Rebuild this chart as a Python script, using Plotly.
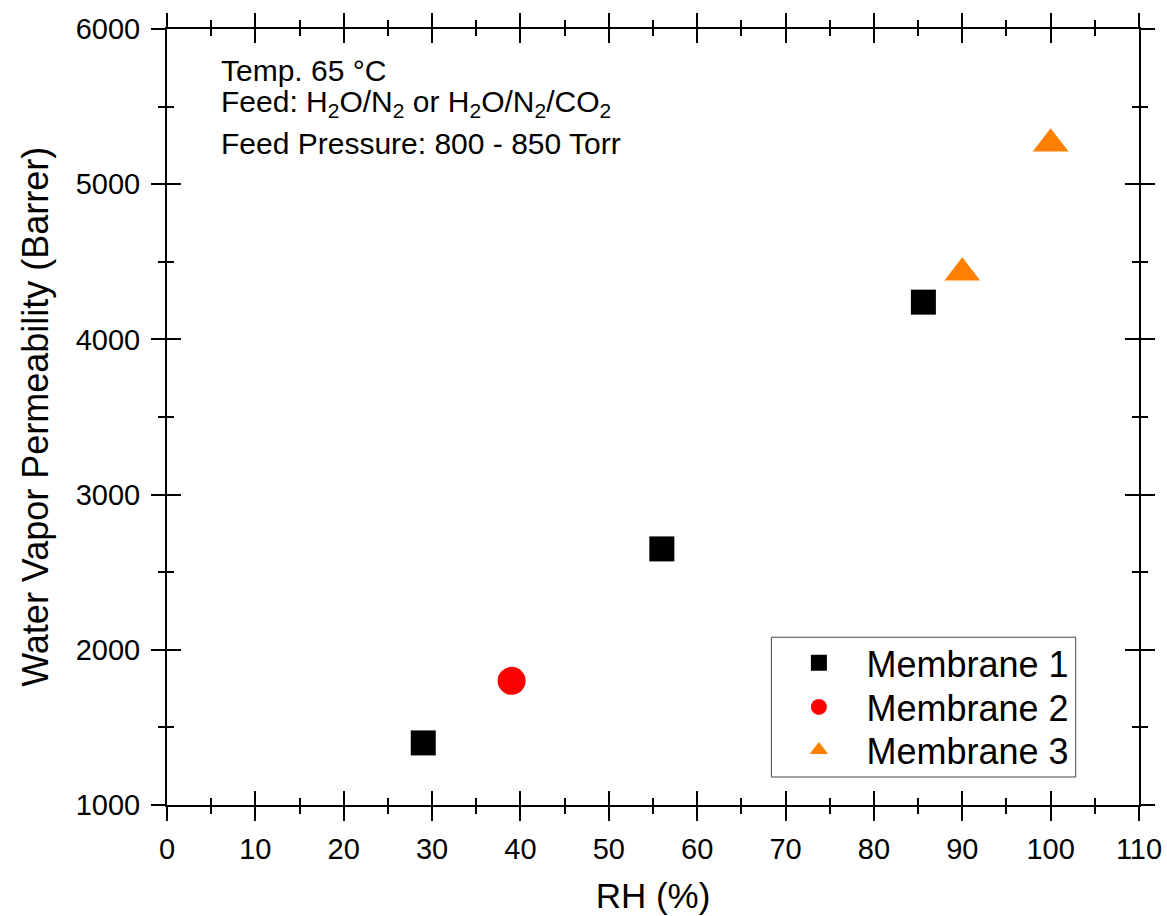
import plotly.graph_objects as go

# Data
m1_rh = [29, 56, 85.6]
m1_perm = [1400, 2650, 4240]
m2_rh = [39]
m2_perm = [1800]
m3_rh = [90, 100]
m3_perm = [4430, 5260]

x_range = [0, 110]
y_range = [1000, 6000]
x_title = "RH (%)"
y_title = "Water Vapor Permeability (Barrer)"
notes = [
    "Temp. 65 °C",
    "Feed: H<sub>2</sub>O/N<sub>2</sub> or H<sub>2</sub>O/N<sub>2</sub>/CO<sub>2</sub>",
    "Feed Pressure: 800 - 850 Torr",
]
note_y = [0.947, 0.904, 0.852]
legend_rows_y = [0.1831, 0.1263, 0.0709]

FONT = "Arial, Liberation Sans, sans-serif"

fig = go.Figure()
fig.add_trace(go.Scatter(x=m1_rh, y=m1_perm, mode="markers", name="Membrane 1", legend="legend",
                         marker=dict(symbol="square", size=25, color="black", line=dict(width=0))))
fig.add_trace(go.Scatter(x=m2_rh, y=m2_perm, mode="markers", name="Membrane 2", legend="legend2",
                         marker=dict(symbol="circle", size=28, color="#ff0000", line=dict(width=0))))
fig.add_trace(go.Scatter(x=m3_rh, y=m3_perm, mode="markers", name="Membrane 3", legend="legend3",
                         marker=dict(symbol="triangle-up", size=31, color="#ff8000", line=dict(width=0))))
# dummy trace for inner-tick overlay axes
fig.add_trace(go.Scatter(x=[], y=[], xaxis="x2", yaxis="y2", showlegend=False, hoverinfo="skip"))

common = dict(showgrid=False, zeroline=False, linecolor="black", linewidth=2,
              tickcolor="black", tickwidth=2, ticklen=14, mirror="ticks", automargin=False)

def leg(yy):
    return dict(x=0.6218, y=yy, xanchor="left", yanchor="middle",
                bgcolor="rgba(0,0,0,0)", borderwidth=0,
                font=dict(size=36, family=FONT, color="black"), itemwidth=85)

fig.update_layout(
    width=1167, height=916,
    margin=dict(l=167, r=28, t=29, b=111),
    paper_bgcolor="white", plot_bgcolor="white",
    font=dict(family=FONT, color="black"),
    xaxis=dict(range=x_range, dtick=10, tick0=0, ticks="outside",
               minor=dict(dtick=5, ticks="outside", ticklen=7, tickwidth=2, tickcolor="black"),
               tickfont=dict(size=29), ticklabelstandoff=3, ticklabeloverflow="allow",
               title=dict(text=x_title, font=dict(size=35), standoff=20), **common),
    yaxis=dict(range=y_range, dtick=1000, tick0=0, ticks="outside",
               minor=dict(dtick=500, ticks="outside", ticklen=7, tickwidth=2, tickcolor="black"),
               tickfont=dict(size=29), ticklabelstandoff=5, ticklabeloverflow="allow", **common),
    xaxis2=dict(range=x_range, dtick=10, tick0=0, ticks="inside", overlaying="x", side="bottom",
                anchor="y2", showticklabels=False,
                minor=dict(dtick=5, ticks="inside", ticklen=7, tickwidth=2, tickcolor="black"),
                **common),
    yaxis2=dict(range=y_range, dtick=1000, tick0=0, ticks="inside", overlaying="y", side="left",
                anchor="x2", showticklabels=False,
                minor=dict(dtick=500, ticks="inside", ticklen=7, tickwidth=2, tickcolor="black"),
                **common),
    legend=leg(legend_rows_y[0]),
    legend2=leg(legend_rows_y[1]),
    legend3=leg(legend_rows_y[2]),
    showlegend=True,
)

# legend frame
fig.add_shape(type="rect", xref="paper", yref="paper", x0=0.6218, x1=0.9349, y0=0.0361, y1=0.2162,
              line=dict(color="#444444", width=1), fillcolor="white", layer="below")

# y-axis title
fig.add_annotation(text=y_title, xref="paper", yref="paper", x=-0.136, y=0.5,
                   xanchor="center", yanchor="middle", textangle=-90, showarrow=False,
                   font=dict(size=36, family=FONT, color="black"))

for txt, yy in zip(notes, note_y):
    fig.add_annotation(text=txt, xref="paper", yref="paper", x=0.053, y=yy,
                       xanchor="left", yanchor="middle", showarrow=False,
                       font=dict(size=30, family=FONT, color="black"))

fig.write_html("out.html", config={"displayModeBar": False},
               post_script="document.body.style.margin='0';document.body.style.overflow='hidden';")
